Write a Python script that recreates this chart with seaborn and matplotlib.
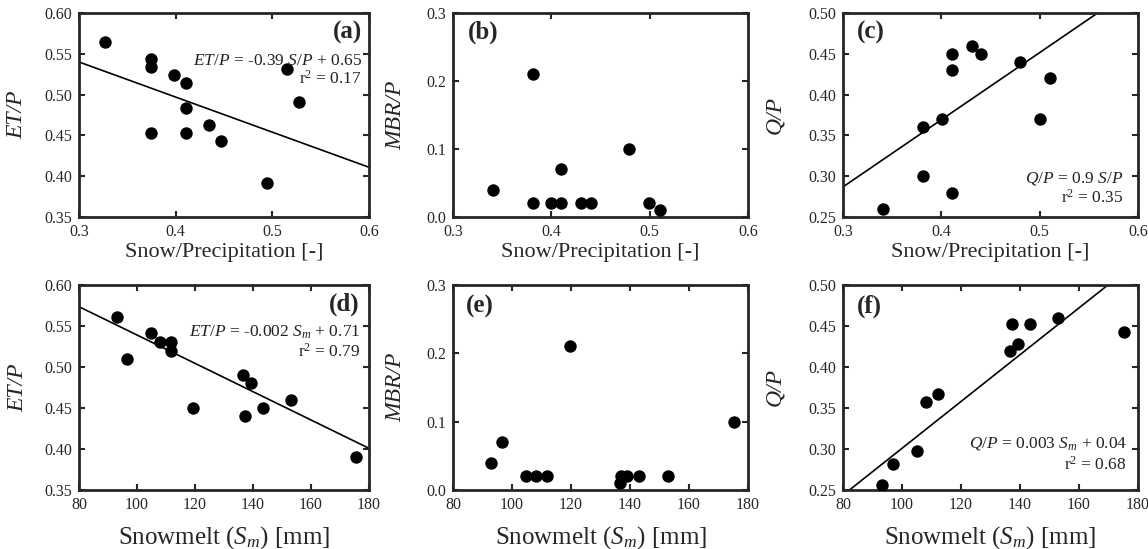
import numpy as np
import pandas as pd
import matplotlib
matplotlib.use('Agg')
import matplotlib.pyplot as plt
import seaborn as sns

# --- dados ---
# linha de cima: Snow/Precipitation
sp_a = [0.3265, 0.3746, 0.3746, 0.3746, 0.398, 0.4107, 0.4107, 0.4107, 0.4347, 0.4467, 0.494, 0.5155, 0.528]
et_a = [0.565, 0.544, 0.534, 0.453, 0.524, 0.514, 0.483, 0.453, 0.463, 0.443, 0.392, 0.532, 0.491]

sp_b = [0.341, 0.381, 0.381, 0.40, 0.41, 0.41, 0.43, 0.44, 0.479, 0.499, 0.51]
mbr_b = [0.04, 0.21, 0.02, 0.02, 0.02, 0.07, 0.02, 0.02, 0.10, 0.02, 0.01]

sp_c = [0.341, 0.381, 0.381, 0.401, 0.411, 0.411, 0.411, 0.431, 0.44, 0.48, 0.50, 0.51]
q_c = [0.26, 0.36, 0.30, 0.37, 0.45, 0.43, 0.28, 0.46, 0.45, 0.44, 0.37, 0.42]

# linha de baixo: Snowmelt (mm)
sm_d = [93.0, 96.7, 104.7, 107.9, 111.9, 111.6, 119.4, 136.7, 139.2, 137.4, 143.3, 153.0, 175.7]
et_d = [0.561, 0.510, 0.541, 0.531, 0.531, 0.520, 0.450, 0.490, 0.480, 0.440, 0.450, 0.460, 0.390]

sm_e = [92.9, 96.6, 104.6, 108.0, 111.8, 119.7, 136.6, 137.1, 139.1, 143.2, 152.8, 175.4]
mbr_e = [0.04, 0.07, 0.02, 0.02, 0.02, 0.21, 0.01, 0.02, 0.02, 0.02, 0.02, 0.10]

sm_f = [93.1, 96.9, 105.0, 108.1, 112.1, 136.6, 137.4, 139.2, 143.4, 152.8, 175.4]
q_f = [0.256, 0.282, 0.298, 0.357, 0.367, 0.419, 0.453, 0.428, 0.453, 0.460, 0.443]

# retas desenhadas (inclinação, intercepto)
fit_a = (-0.43, 0.669)
fit_c = (0.823, 0.040)
fit_d = (-0.001727, 0.7117)
fit_f = (0.002854, 0.0154)

sns.set_theme(style='ticks')
plt.rcParams['font.family'] = ['Liberation Serif', 'DejaVu Serif']
plt.rcParams['mathtext.fontset'] = 'custom'
plt.rcParams['mathtext.rm'] = 'Liberation Serif'
plt.rcParams['mathtext.it'] = 'Liberation Serif:italic'
plt.rcParams['mathtext.bf'] = 'Liberation Serif:bold'

fig = plt.figure(figsize=(11.48, 5.49), dpi=100)

lefts = [0.0688, 0.3946, 0.7343]
widths = [0.2526, 0.257, 0.257]
bottoms = [0.6047, 0.1075]
heights = [0.3716, 0.3734]
# posição do rótulo y (fração do eixo, lado direito do texto rodado)
ylab_x = [[-0.18, -0.16, -0.195], [-0.175, -0.157, -0.195]]

paineis = [
    (sp_a, et_a, fit_a, 'ET/P', 'Snow/Precipitation [-]', (0.3, 0.6), (0.35, 0.60), 0.05, '%.2f'),
    (sp_b, mbr_b, None, 'MBR/P', 'Snow/Precipitation [-]', (0.3, 0.6), (0.0, 0.3), 0.1, '%.1f'),
    (sp_c, q_c, fit_c, 'Q/P', 'Snow/Precipitation [-]', (0.3, 0.6), (0.25, 0.50), 0.05, '%.2f'),
    (sm_d, et_d, fit_d, 'ET/P', r'Snowmelt ($S_m$) [mm]', (80, 180), (0.35, 0.60), 0.05, '%.2f'),
    (sm_e, mbr_e, None, 'MBR/P', r'Snowmelt ($S_m$) [mm]', (80, 180), (0.0, 0.3), 0.1, '%.1f'),
    (sm_f, q_f, fit_f, 'Q/P', r'Snowmelt ($S_m$) [mm]', (80, 180), (0.25, 0.50), 0.05, '%.2f'),
]

axes = []
for i, (x, y, fit, ylab, xlab, xlim, ylim, ystep, yfmt) in enumerate(paineis):
    r, c = divmod(i, 3)
    ax = fig.add_axes([lefts[c], bottoms[r], widths[c], heights[r]])
    df = pd.DataFrame({'x': x, 'y': y})
    sns.scatterplot(data=df, x='x', y='y', ax=ax, color='black', s=80,
                    edgecolor='black', linewidth=0, zorder=3)
    if fit is not None:
        xx = np.array(xlim, dtype=float)
        sns.lineplot(x=xx, y=fit[0] * xx + fit[1], ax=ax, color='black', lw=1.2)
    ax.set_xlim(*xlim)
    ax.set_ylim(*ylim)
    if r == 0:
        ax.set_xticks(np.arange(0.3, 0.61, 0.1))
        ax.set_xticklabels(['0.3', '0.4', '0.5', '0.6'])
        ax.set_xlabel(xlab, fontsize=16, labelpad=2)
    else:
        ax.set_xticks(np.arange(80, 181, 20))
        ax.set_xlabel(xlab, fontsize=18, labelpad=8)
    yt = np.arange(ylim[0], ylim[1] + 1e-9, ystep)
    ax.set_yticks(yt)
    ax.set_yticklabels([yfmt % v for v in yt])
    ax.tick_params(direction='in', top=True, right=True, length=4, width=1.5,
                   labelsize=11.5, pad=5)
    for sp in ax.spines.values():
        sp.set_linewidth(2)
        sp.set_visible(True)
    ax.set_ylabel(ylab, fontsize=17, fontstyle='italic')
    ax.yaxis.set_label_coords(ylab_x[r][c], 0.5)
    axes.append(ax)

ax_a, ax_b, ax_c, ax_d, ax_e, ax_f = axes

cor_txt = '#222222'
kw_lbl = dict(fontsize=18, fontweight='bold', va='center')
kw_eq = dict(fontsize=12.5, color=cor_txt, va='center', ha='right')

ax_a.text(0.976, 0.905, '(a)', transform=ax_a.transAxes, ha='right', **kw_lbl)
ax_a.text(0.976, 0.765, r'$ET/P$ = -0.39 $S/P$ + 0.65', transform=ax_a.transAxes, **kw_eq)
ax_a.text(0.976, 0.68, r'r$^2$ = 0.17', transform=ax_a.transAxes, **kw_eq)

ax_b.text(0.05, 0.905, '(b)', transform=ax_b.transAxes, ha='left', **kw_lbl)

ax_c.text(0.047, 0.905, '(c)', transform=ax_c.transAxes, ha='left', **kw_lbl)
ax_c.text(0.95, 0.19, r'$Q/P$ = 0.9 $S/P$', transform=ax_c.transAxes, **kw_eq)
ax_c.text(0.95, 0.095, r'r$^2$ = 0.35', transform=ax_c.transAxes, **kw_eq)

ax_d.text(0.969, 0.905, '(d)', transform=ax_d.transAxes, ha='right', **kw_lbl)
ax_d.text(0.97, 0.77, r'$ET/P$ = -0.002 $S_m$ + 0.71', transform=ax_d.transAxes, **kw_eq)
ax_d.text(0.97, 0.673, r'r$^2$ = 0.79', transform=ax_d.transAxes, **kw_eq)

ax_e.text(0.044, 0.895, '(e)', transform=ax_e.transAxes, ha='left', **kw_lbl)

ax_f.text(0.047, 0.895, '(f)', transform=ax_f.transAxes, ha='left', **kw_lbl)
ax_f.text(0.963, 0.225, r'$Q/P$ = 0.003 $S_m$ + 0.04', transform=ax_f.transAxes, **kw_eq)
ax_f.text(0.963, 0.125, r'r$^2$ = 0.68', transform=ax_f.transAxes, **kw_eq)

fig.savefig('out.png', dpi=100, facecolor='white')
